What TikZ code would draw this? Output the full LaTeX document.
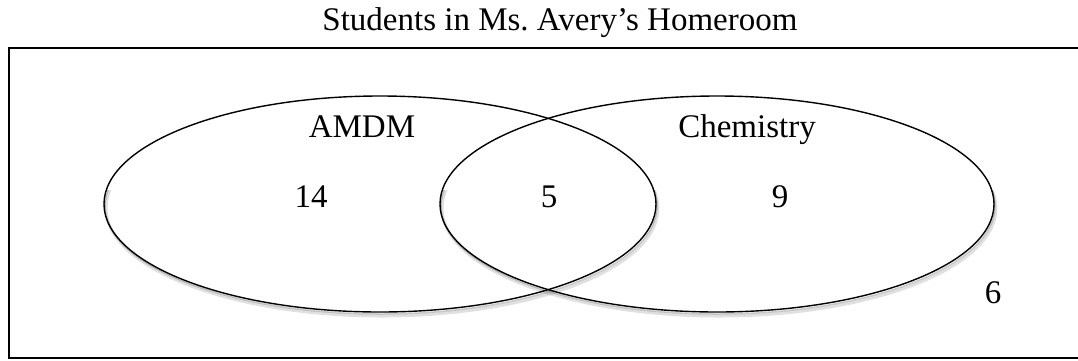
\documentclass[tikz,border=0pt]{standalone}
\usepackage{fontspec}
\setmainfont{Liberation Serif}
\begin{document}
\begin{tikzpicture}[x=1pt,y=-1pt,
  lbl/.style={font=\fontsize{33}{38}\selectfont\frenchspacing, inner sep=0pt, anchor=base},
  setellipse/.style={draw=black, line width=1.4pt},
  shadowline/.style={draw=black, line width=3pt, opacity=0.12}]
\useasboundingbox (0,0) rectangle (1078,360);
\node[lbl] (title) at (560,30) {Students in Ms. Avery’s Homeroom};
\draw[line width=2pt] (1090,48) -- (9,48) -- (9,358) -- (1090,358);
% shadows (lower half only)
\begin{scope}
\clip (0,190) rectangle (1078,360);
\draw[shadowline] (382,208) ellipse [x radius=276, y radius=108];
\draw[shadowline] (719,208) ellipse [x radius=277, y radius=108];
\draw[shadowline, line width=1.5pt, opacity=0.2] (381,206) ellipse [x radius=276, y radius=108];
\draw[shadowline, line width=1.5pt, opacity=0.2] (718,206) ellipse [x radius=277, y radius=108];
\end{scope}
% sets
\draw[setellipse] (380,204) ellipse [x radius=276, y radius=108];
\draw[setellipse] (717,204) ellipse [x radius=277, y radius=108];
\node[lbl] (amdm) at (362,137) {AMDM};
\node[lbl] (chem) at (747,137) {Chemistry};
\node[lbl] (a) at (311,207) {14};
\node[lbl] (ab) at (549,207) {5};
\node[lbl] (b) at (780,207) {9};
\node[lbl] (none) at (993,303) {6};
\end{tikzpicture}
\end{document}
